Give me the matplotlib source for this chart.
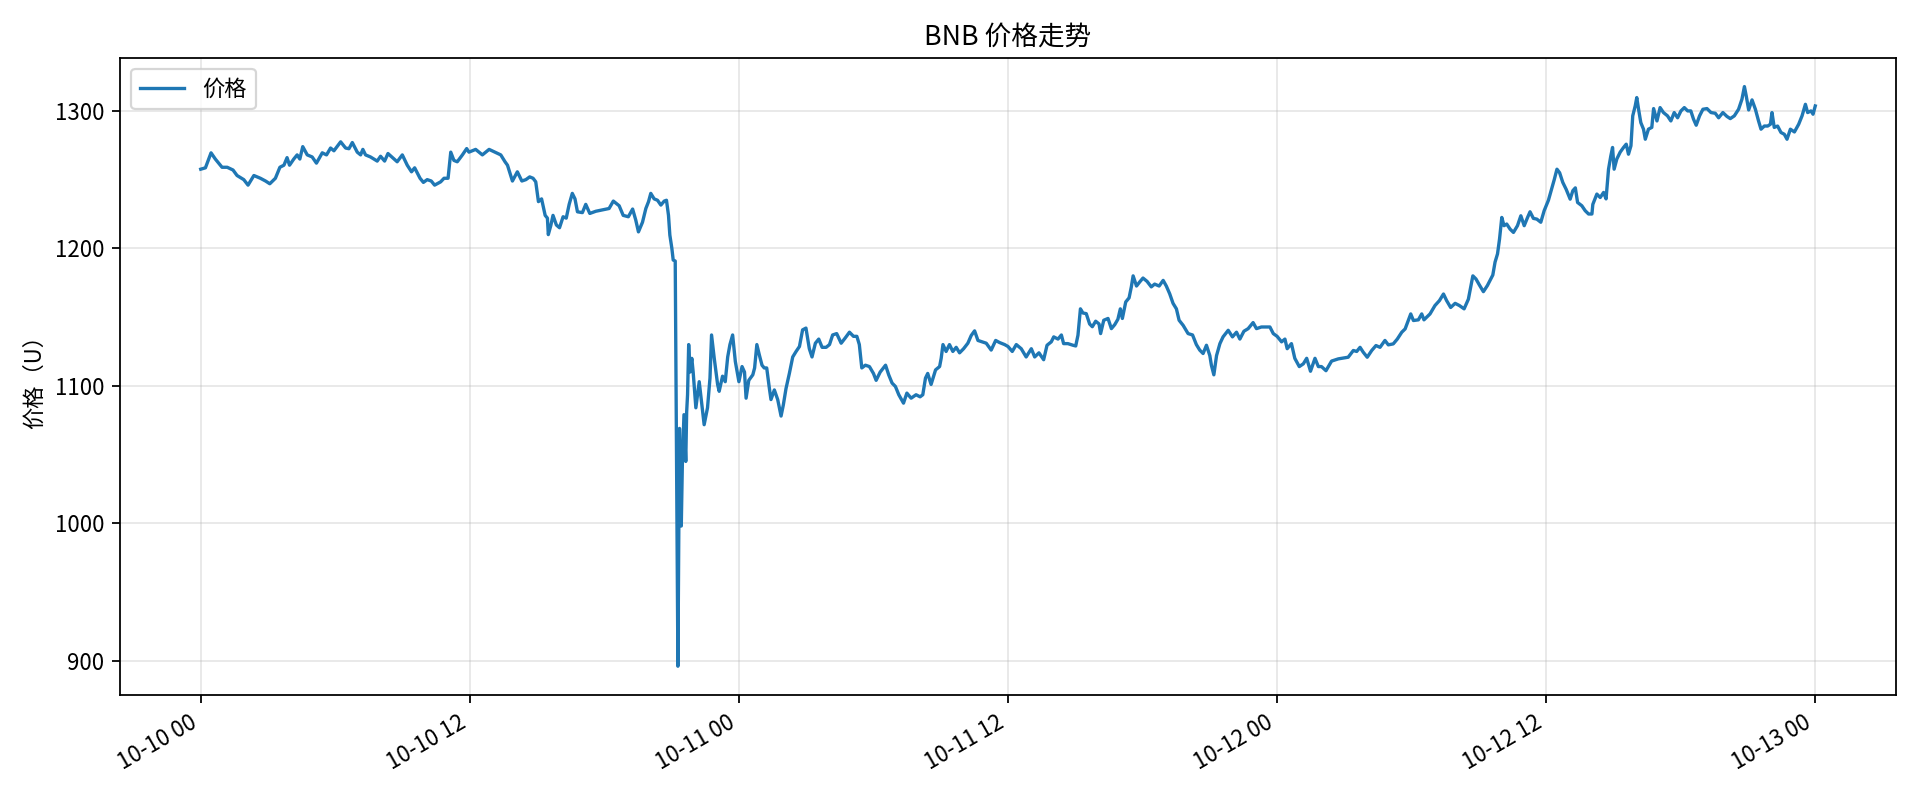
import numpy as np
import pandas as pd
import matplotlib
matplotlib.use("Agg")
import matplotlib.pyplot as plt
import matplotlib.dates as mdates

plt.rcParams['font.family'] = ['Noto Sans CJK SC', 'DejaVu Sans']
plt.rcParams['axes.unicode_minus'] = False

# 起始时间
start = pd.Timestamp("2025-10-10 00:00")

# 距起始的小时数（从图上读出来的点）
hours = [
    0.00, 0.21, 0.46, 0.65, 0.95, 1.18, 1.44, 1.62, 1.92, 2.11,
    2.37, 2.66, 2.89, 3.08, 3.33, 3.53, 3.71, 3.85, 3.96, 4.15,
    4.30, 4.42, 4.55, 4.75, 4.97, 5.16, 5.42, 5.61, 5.79, 5.94,
    6.24, 6.46, 6.61, 6.76, 6.98, 7.13, 7.23, 7.35, 7.57, 7.87,
    8.02, 8.20, 8.35, 8.62, 8.76, 8.99, 9.21, 9.40, 9.54, 9.78,
    9.93, 10.10, 10.28, 10.43, 10.70, 10.85, 11.03, 11.15, 11.29, 11.44,
    11.67, 11.86, 11.96, 12.26, 12.56, 12.86, 13.16, 13.38, 13.57, 13.68,
    13.90, 14.12, 14.32, 14.50, 14.67, 14.82, 14.94, 15.06, 15.20, 15.36,
    15.46, 15.50, 15.61, 15.71, 15.86, 16.00, 16.16, 16.30, 16.43, 16.57,
    16.69, 16.80, 17.02, 17.17, 17.35, 17.62, 17.92, 18.21, 18.40, 18.66,
    18.84, 19.07, 19.26, 19.40, 19.52, 19.70, 19.85, 19.97, 20.07, 20.22,
    20.37, 20.52, 20.67, 20.77, 20.86, 20.92, 21.01, 21.07, 21.16,
    # 暴跌
    21.28, 21.35, 21.43, 21.48, 21.55, 21.63, 21.67, 21.71, 21.76, 21.82,
    21.90, 21.96, 22.08, 22.23, 22.35, 22.45, 22.60, 22.71, 22.78, 22.90,
    23.05, 23.12, 23.27, 23.39, 23.50, 23.60, 23.72, 23.84, 24.00, 24.14,
    24.25, 24.32, 24.44, 24.62, 24.70, 24.80, 24.91, 25.03, 25.13, 25.24,
    25.36, 25.43, 25.58, 25.73, 25.88, 25.98, 26.10, 26.25, 26.40, 26.55,
    26.70, 26.84, 26.99, 27.14, 27.26, 27.41, 27.56, 27.71, 27.89, 28.04,
    28.18, 28.36, 28.56, 28.75, 28.93, 29.11, 29.26, 29.37, 29.48, 29.64,
    29.82, 30.00, 30.12, 30.30, 30.54, 30.68, 30.83, 30.98, 31.13, 31.34,
    31.49, 31.68, 31.90, 32.08, 32.20, 32.32, 32.42, 32.57, 32.77, 32.95,
    33.02, 33.10, 33.24, 33.39, 33.54, 33.69, 33.84, 34.02, 34.21, 34.36,
    34.51, 34.66, 34.85, 35.03, 35.25, 35.45, 35.62, 35.85, 36.00, 36.19,
    36.37, 36.59, 36.81, 37.04, 37.19, 37.38, 37.59, 37.74, 37.93, 38.04,
    38.23, 38.38, 38.48, 38.67, 38.90, 39.02, 39.12, 39.23, 39.34, 39.49,
    39.64, 39.76, 39.91, 40.06, 40.13, 40.27, 40.46, 40.61, 40.76, 40.90,
    41.01, 41.10, 41.25, 41.40, 41.50, 41.58, 41.73, 41.87, 42.02, 42.20,
    42.39, 42.54, 42.74, 42.92, 43.06, 43.21, 43.36, 43.51, 43.63, 43.81,
    44.03, 44.23, 44.40, 44.55, 44.70, 44.85, 45.00, 45.07, 45.18, 45.30,
    45.45, 45.59, 45.82, 46.01, 46.19, 46.34, 46.52, 46.71, 46.93, 47.08,
    47.30, 47.68, 47.83, 48.00, 48.20, 48.35, 48.45, 48.64, 48.79, 48.99,
    49.17, 49.32, 49.49, 49.69, 49.84, 49.98, 50.18, 50.36, 50.43, 50.73,
    51.17, 51.40, 51.55, 51.70, 51.84, 52.02, 52.22, 52.41, 52.59, 52.81,
    52.96, 53.18, 53.36, 53.56, 53.71, 53.85, 53.96, 54.08, 54.30, 54.45,
    54.55, 54.82, 55.04, 55.24, 55.42, 55.56, 55.74, 55.94, 56.13, 56.34,
    56.53, 56.73, 56.87, 57.02, 57.20, 57.38, 57.53, 57.62, 57.72, 57.83,
    57.92, 58.02, 58.12, 58.24, 58.39, 58.54, 58.72, 58.87, 59.02, 59.17,
    59.28, 59.43, 59.58, 59.76, 59.91, 60.10, 60.22, 60.36, 60.48, 60.60,
    60.74, 60.89, 61.07, 61.19, 61.30, 61.40, 61.59, 61.74, 61.89, 62.04,
    62.08, 62.26, 62.41, 62.56, 62.67, 62.78, 62.88, 62.96, 63.03, 63.15,
    63.30, 63.45, 63.57, 63.67, 63.78, 63.86, 63.97, 64.04, 64.12, 64.22,
    64.34, 64.42, 64.56, 64.71, 64.79, 64.94, 65.08, 65.23, 65.41, 65.56,
    65.71, 65.86, 66.01, 66.16, 66.31, 66.45, 66.57, 66.69, 66.84, 66.99,
    67.17, 67.35, 67.54, 67.69, 67.88, 68.06, 68.21, 68.39, 68.58, 68.73,
    68.84, 68.92, 69.03, 69.18, 69.33, 69.47, 69.58, 69.73, 69.88, 70.00,
    70.07, 70.17, 70.32, 70.47, 70.62, 70.74, 70.89, 71.07, 71.26, 71.41,
    71.56, 71.66, 71.81, 71.90, 72.00,
]

# 价格（U）
price = [
    1257.6, 1258.6, 1269.5, 1265.0, 1259.0, 1259.0, 1257.0, 1253.0, 1250.0, 1246.0,
    1253.0, 1251.0, 1249.0, 1247.0, 1251.0, 1259.0, 1260.5, 1266.0, 1260.5, 1265.0,
    1268.0, 1265.0, 1274.0, 1268.0, 1266.5, 1262.0, 1269.5, 1268.0, 1273.0, 1271.0,
    1277.5, 1273.0, 1272.5, 1277.0, 1270.0, 1268.0, 1272.0, 1268.0, 1266.5, 1263.5,
    1267.0, 1263.5, 1269.0, 1265.0, 1263.0, 1268.0, 1260.5, 1255.7, 1258.6, 1251.0,
    1248.0, 1250.0, 1249.0, 1246.0, 1248.4, 1251.0, 1251.0, 1270.0, 1264.0, 1263.0,
    1268.0, 1272.6, 1270.0, 1272.0, 1268.0, 1272.0, 1269.7, 1268.0, 1263.0, 1260.5,
    1249.0, 1255.7, 1249.0, 1250.0, 1252.0, 1251.0, 1248.4, 1234.0, 1236.0, 1224.0,
    1222.0, 1210.0, 1216.5, 1224.0, 1217.0, 1215.0, 1223.0, 1222.0, 1232.0, 1240.0,
    1236.0, 1226.6, 1226.0, 1232.0, 1225.4, 1227.0, 1228.0, 1229.0, 1234.4, 1231.0,
    1224.0, 1223.0, 1228.6, 1220.6, 1212.0, 1219.0, 1229.0, 1234.0, 1240.0, 1236.0,
    1235.0, 1231.5, 1234.4, 1235.0, 1224.0, 1209.7, 1200.0, 1191.5, 1190.8,
    896.0, 1069.0, 998.0, 1045.0, 1079.0, 1045.0, 1081.0, 1093.5, 1130.0, 1110.0,
    1120.0, 1110.0, 1084.0, 1103.0, 1086.0, 1071.7, 1084.0, 1105.6, 1137.0, 1120.0,
    1101.0, 1096.0, 1107.0, 1103.0, 1121.0, 1130.0, 1137.0, 1117.7, 1103.0, 1114.0,
    1110.0, 1091.0, 1104.0, 1108.0, 1113.0, 1130.0, 1122.5, 1115.0, 1113.0, 1113.0,
    1098.0, 1090.0, 1097.0, 1090.0, 1078.0, 1086.0, 1098.0, 1109.0, 1121.0, 1125.0,
    1128.6, 1140.7, 1142.0, 1127.0, 1121.0, 1131.0, 1134.0, 1128.0, 1128.0, 1130.0,
    1137.0, 1138.0, 1131.0, 1135.0, 1139.0, 1136.0, 1136.0, 1130.0, 1113.0, 1115.0,
    1114.0, 1109.0, 1104.0, 1110.0, 1115.0, 1108.0, 1102.0, 1099.5, 1093.5, 1087.4,
    1094.7, 1091.0, 1093.5, 1092.0, 1093.5, 1105.6, 1109.0, 1101.0, 1111.6, 1114.0,
    1120.0, 1130.0, 1125.0, 1130.0, 1125.0, 1128.0, 1124.0, 1127.0, 1131.0, 1136.6,
    1140.0, 1133.0, 1132.0, 1131.0, 1126.0, 1133.0, 1131.5, 1130.0, 1128.6, 1125.0,
    1130.0, 1127.0, 1121.0, 1127.0, 1121.0, 1124.0, 1119.0, 1129.5, 1132.0, 1135.6,
    1134.0, 1137.0, 1130.7, 1130.7, 1129.5, 1129.0, 1136.8, 1156.0, 1153.0, 1152.5,
    1145.0, 1143.0, 1147.0, 1145.0, 1138.0, 1147.7, 1149.0, 1141.6, 1144.5, 1148.4,
    1156.0, 1149.0, 1161.0, 1164.0, 1172.0, 1180.0, 1172.6, 1175.5, 1178.4, 1176.0,
    1172.0, 1174.0, 1172.6, 1176.7, 1172.6, 1167.0, 1160.0, 1156.0, 1147.7, 1144.0,
    1138.0, 1137.0, 1130.0, 1126.0, 1123.5, 1129.5, 1122.0, 1115.0, 1108.0, 1122.0,
    1130.7, 1135.6, 1140.4, 1135.6, 1139.0, 1134.0, 1139.7, 1141.6, 1146.0, 1141.6,
    1142.8, 1142.8, 1138.0, 1136.0, 1132.0, 1134.0, 1127.0, 1130.7, 1120.0, 1114.0,
    1116.0, 1120.0, 1110.6, 1120.0, 1114.0, 1114.0, 1111.0, 1116.0, 1118.0, 1119.6,
    1120.8, 1125.7, 1125.0, 1128.0, 1124.5, 1120.8, 1125.7, 1129.3, 1128.0, 1133.0,
    1129.8, 1130.5, 1134.0, 1139.0, 1141.4, 1147.5, 1152.3, 1147.5, 1148.0, 1152.3,
    1148.0, 1152.3, 1158.4, 1162.0, 1166.8, 1162.0, 1157.0, 1160.0, 1158.4, 1156.0,
    1163.0, 1180.0, 1177.7, 1173.4, 1168.5, 1173.0, 1177.7, 1180.6, 1190.0, 1196.0,
    1206.8, 1222.5, 1216.5, 1217.7, 1214.0, 1211.6, 1216.5, 1223.7, 1216.5, 1222.5,
    1226.6, 1221.8, 1221.3, 1219.0, 1227.4, 1235.0, 1242.0, 1250.0, 1257.6, 1255.0,
    1248.0, 1243.0, 1235.8, 1242.0, 1244.0, 1233.4, 1231.0, 1227.4, 1225.0, 1225.0,
    1232.0, 1239.5, 1237.0, 1240.7, 1236.0, 1257.6, 1267.0, 1273.4, 1257.6, 1265.0,
    1270.0, 1273.4, 1275.8, 1268.5, 1274.6, 1296.4, 1303.6, 1309.7, 1301.2, 1291.5,
    1286.7, 1279.4, 1286.7, 1288.0, 1301.7, 1292.7, 1302.4, 1298.8, 1296.4, 1292.7,
    1298.8, 1295.0, 1300.0, 1302.4, 1300.0, 1300.0, 1294.0, 1289.6, 1296.4, 1301.2,
    1301.7, 1298.8, 1298.3, 1295.0, 1298.8, 1296.0, 1294.4, 1296.4, 1301.2, 1308.5,
    1317.7, 1311.0, 1300.7, 1308.0, 1301.2, 1292.7, 1286.7, 1289.0, 1289.0, 1290.3,
    1298.8, 1288.0, 1289.0, 1284.3, 1283.0, 1279.4, 1286.7, 1284.7, 1290.3, 1296.4,
    1304.8, 1298.8, 1300.0, 1297.6, 1303.6,
]

times = start + pd.to_timedelta(np.array(hours), unit="h")

fig, ax = plt.subplots(figsize=(12, 5), dpi=160)
ax.plot(times, price, color="#1f77b4", linewidth=1.5, label="价格")

ax.set_title("BNB 价格走势")
ax.set_ylabel("价格（U）")
ax.set_yticks([900, 1000, 1100, 1200, 1300])
ax.grid(True, alpha=0.3)
ax.legend(loc="upper left")

ax.xaxis.set_major_locator(mdates.HourLocator(byhour=[0, 12]))
ax.xaxis.set_major_formatter(mdates.DateFormatter("%m-%d %H"))
fig.autofmt_xdate()

fig.subplots_adjust(left=0.0625, right=0.9875, top=0.928, bottom=0.131)
fig.savefig("out.png", dpi=160)
